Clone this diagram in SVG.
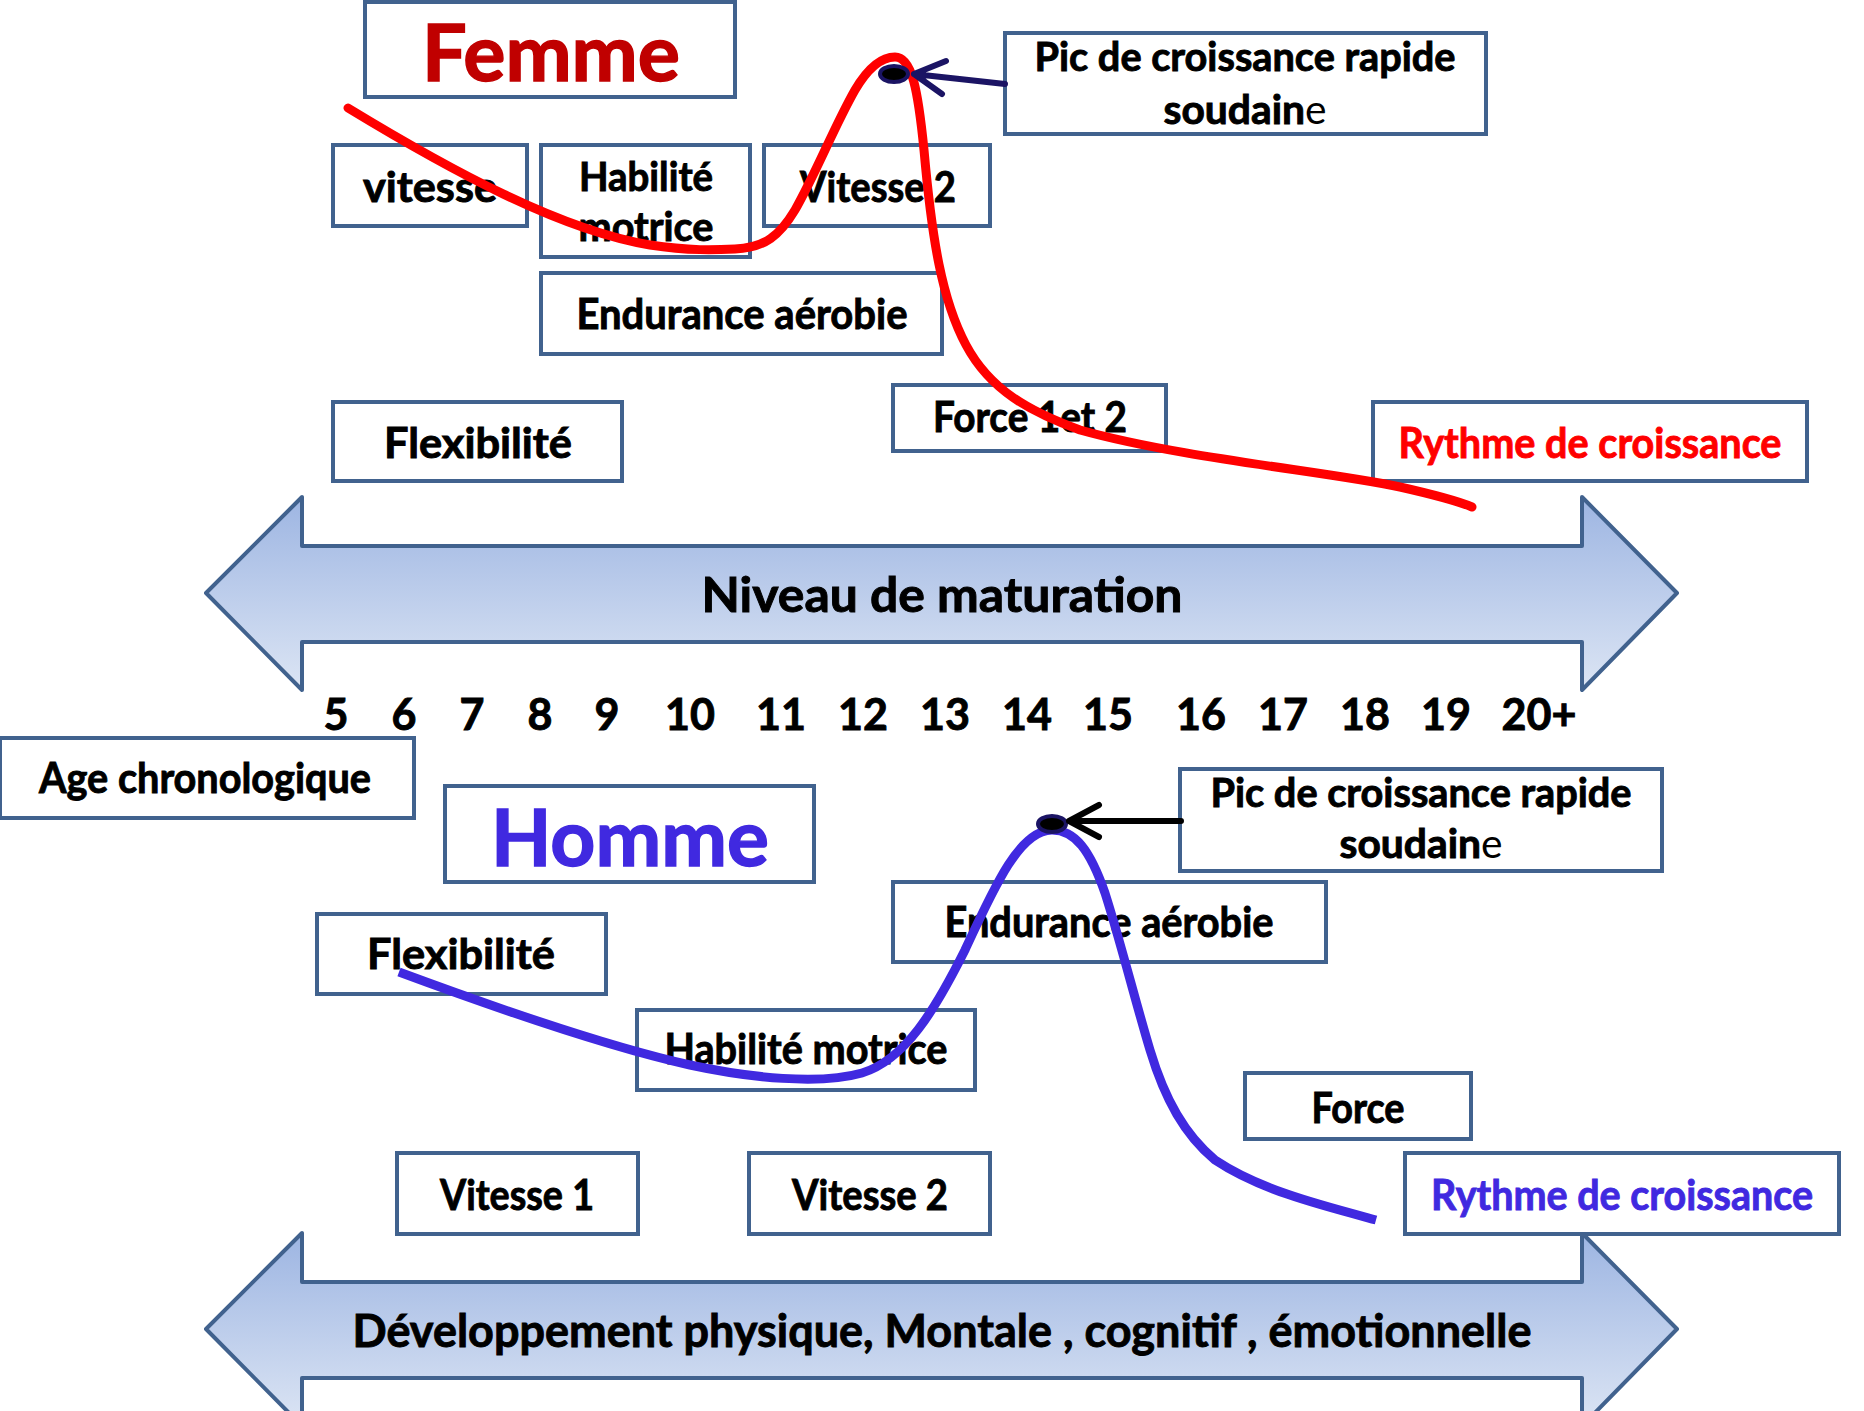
<svg xmlns="http://www.w3.org/2000/svg" width="1864" height="1411" viewBox="0 0 1864 1411">
<style>
.bx{fill:#fff;stroke:#41628E;stroke-width:4}
.ar{stroke:#41628E;stroke-width:4;stroke-linejoin:round}
.t{font-family:Lato,"Open Sans","Liberation Sans",sans-serif;font-weight:700;font-size:42px;text-anchor:middle;fill:#000;stroke:#000;stroke-width:0.9px}
.big{font-size:78px;stroke-width:1.4px}
.num{font-size:43px}
.sm{font-size:40px}
.red{fill:#FF0000;stroke:#FF0000}
.blue{fill:#4029E0;stroke:#4029E0}
.dred{fill:#C00000;stroke:#C00000}
.thin{font-weight:400;stroke-width:0}
</style>
<defs>
<linearGradient id="g" x1="0" y1="0" x2="0" y2="1">
<stop offset="0" stop-color="#9DB5E2"/>
<stop offset="1" stop-color="#DCE5F4"/>
</linearGradient>
</defs>
<rect width="1864" height="1411" fill="#fff"/>

<g id="arrow-maturation">
<path class="ar" fill="url(#g)" d="M206,593 L302,497 L302,546 L1582,546 L1582,497 L1677,593 L1582,690 L1582,642 L302,642 L302,690 Z"/>
<text class="t" x="942" y="612" style="font-size:47px" textLength="481" lengthAdjust="spacingAndGlyphs">Niveau de maturation</text>
</g>
<g id="arrow-developpement">
<path class="ar" fill="url(#g)" d="M206,1329 L302,1233 L302,1282 L1582,1282 L1582,1233 L1677,1329 L1582,1426 L1582,1378 L302,1378 L302,1426 Z"/>
<text class="t" x="942" y="1347" style="font-size:46px" textLength="1179" lengthAdjust="spacingAndGlyphs">Développement physique, Montale , cognitif , émotionnelle</text>
</g>

<g id="ages">
<text class="t num" x="336" y="730">5</text>
<text class="t num" x="404" y="730">6</text>
<text class="t num" x="472" y="730">7</text>
<text class="t num" x="540" y="730">8</text>
<text class="t num" x="607" y="730">9</text>
<text class="t num" x="690" y="730">10</text>
<text class="t num" x="781" y="730">11</text>
<text class="t num" x="863" y="730">12</text>
<text class="t num" x="945" y="730">13</text>
<text class="t num" x="1027" y="730">14</text>
<text class="t num" x="1108" y="730">15</text>
<text class="t num" x="1201" y="730">16</text>
<text class="t num" x="1283" y="730">17</text>
<text class="t num" x="1365" y="730">18</text>
<text class="t num" x="1446" y="730">19</text>
<text class="t num" x="1539" y="730">20+</text>
</g>

<!-- Femme section -->
<g id="femme"><rect class="bx" x="365" y="2" width="370" height="95"/><text class="t big dred" x="551" y="81" textLength="258" lengthAdjust="spacingAndGlyphs">Femme</text></g>
<g id="f-vitesse"><rect class="bx" x="333" y="145" width="194" height="81"/><text class="t" x="430" y="202" textLength="134" lengthAdjust="spacingAndGlyphs">vitesse</text></g>
<g id="f-habilite"><rect class="bx" x="541" y="145" width="209" height="112"/><text class="t sm" x="646" y="191" textLength="134" lengthAdjust="spacingAndGlyphs">Habilité</text><text class="t sm" x="646" y="241" textLength="135" lengthAdjust="spacingAndGlyphs">motrice</text></g>
<g id="f-vitesse2"><rect class="bx" x="764" y="145" width="226" height="81"/><text class="t" x="878" y="202" textLength="156" lengthAdjust="spacingAndGlyphs">Vitesse 2</text></g>
<g id="f-endurance"><rect class="bx" x="541" y="273" width="401" height="81"/><text class="t" x="742" y="329" textLength="331" lengthAdjust="spacingAndGlyphs">Endurance aérobie</text></g>
<g id="f-pic"><rect class="bx" x="1005" y="33" width="481" height="101"/><text class="t sm" x="1245" y="71" textLength="421" lengthAdjust="spacingAndGlyphs">Pic de croissance rapide</text><text class="t sm" x="1245" y="124" textLength="163" lengthAdjust="spacingAndGlyphs">soudain<tspan class="thin">e</tspan></text></g>
<g id="f-flexibilite"><rect class="bx" x="333" y="402" width="289" height="79"/><text class="t" x="478" y="458" textLength="188" lengthAdjust="spacingAndGlyphs">Flexibilité</text></g>
<g id="f-force"><rect class="bx" x="893" y="385" width="273" height="66"/><text class="t" x="1030" y="432" textLength="194" lengthAdjust="spacingAndGlyphs">Force 1et 2</text></g>
<g id="f-rythme"><rect class="bx" x="1373" y="402" width="434" height="79"/><text class="t red" x="1590" y="458" textLength="383" lengthAdjust="spacingAndGlyphs">Rythme de croissance</text></g>

<!-- Homme section -->
<g id="age-chrono"><rect class="bx" x="0" y="738" width="414" height="80"/><text class="t" x="205" y="793" textLength="332" lengthAdjust="spacingAndGlyphs">Age chronologique</text></g>
<g id="homme"><rect class="bx" x="445" y="786" width="369" height="96"/><text class="t big blue" x="630" y="866" textLength="278" lengthAdjust="spacingAndGlyphs">Homme</text></g>
<g id="h-pic"><rect class="bx" x="1180" y="769" width="482" height="102"/><text class="t sm" x="1421" y="807" textLength="421" lengthAdjust="spacingAndGlyphs">Pic de croissance rapide</text><text class="t sm" x="1421" y="858" textLength="163" lengthAdjust="spacingAndGlyphs">soudain<tspan class="thin">e</tspan></text></g>
<g id="h-endurance"><rect class="bx" x="893" y="882" width="433" height="80"/><text class="t" x="1109" y="937" textLength="329" lengthAdjust="spacingAndGlyphs">Endurance aérobie</text></g>
<g id="h-flexibilite"><rect class="bx" x="317" y="914" width="289" height="80"/><text class="t" x="461" y="969" textLength="188" lengthAdjust="spacingAndGlyphs">Flexibilité</text></g>
<g id="h-habilite"><rect class="bx" x="637" y="1010" width="338" height="80"/><text class="t" x="806" y="1064" textLength="283" lengthAdjust="spacingAndGlyphs">Habilité motrice</text></g>
<g id="h-force"><rect class="bx" x="1245" y="1073" width="226" height="66"/><text class="t" x="1358" y="1123" textLength="93" lengthAdjust="spacingAndGlyphs">Force</text></g>
<g id="h-vitesse1"><rect class="bx" x="397" y="1153" width="241" height="81"/><text class="t" x="517" y="1210" textLength="154" lengthAdjust="spacingAndGlyphs">Vitesse 1</text></g>
<g id="h-vitesse2"><rect class="bx" x="749" y="1153" width="241" height="81"/><text class="t" x="870" y="1210" textLength="156" lengthAdjust="spacingAndGlyphs">Vitesse 2</text></g>
<g id="h-rythme"><rect class="bx" x="1405" y="1153" width="434" height="81"/><text class="t blue" x="1622" y="1210" textLength="382" lengthAdjust="spacingAndGlyphs">Rythme de croissance</text></g>

<g id="connectors" fill="none" stroke-linecap="round" stroke-linejoin="round">
<path d="M348,108 C450,170 560,230 650,245 C690,251 715,250 735,249 C765,248 780,235 795,210 C815,175 835,125 855,90 C868,68 882,57 895,57 C912,57 918,90 924,150 C932,240 942,300 966,345 C990,390 1030,412 1080,430 C1180,458 1330,472 1400,487 C1440,496 1460,502 1472,507" stroke="#FF0000" stroke-width="9"/>
<ellipse cx="894" cy="74" rx="14" ry="8" fill="#000" stroke="#1B1464" stroke-width="4"/>
<path d="M1005,84 L914,74 M946,61 L914,74 L942,94" stroke="#1B1464" stroke-width="6"/>
<path d="M399,972 C480,1002 600,1045 690,1065 C750,1078 820,1085 862,1073 C905,1060 935,1010 965,950 C995,885 1020,830 1052,830 C1075,830 1090,850 1105,893 C1120,940 1135,1000 1150,1050 C1165,1100 1185,1135 1215,1160 C1260,1190 1320,1205 1376,1220" stroke="#4029E0" stroke-width="9" stroke-linecap="butt"/>
<ellipse cx="1052" cy="824" rx="14" ry="8" fill="#000" stroke="#1B1464" stroke-width="4"/>
<path d="M1181,821 L1069,821 M1099,805 L1069,821 L1099,837" stroke="#000" stroke-width="6"/>
</g>
</svg>
